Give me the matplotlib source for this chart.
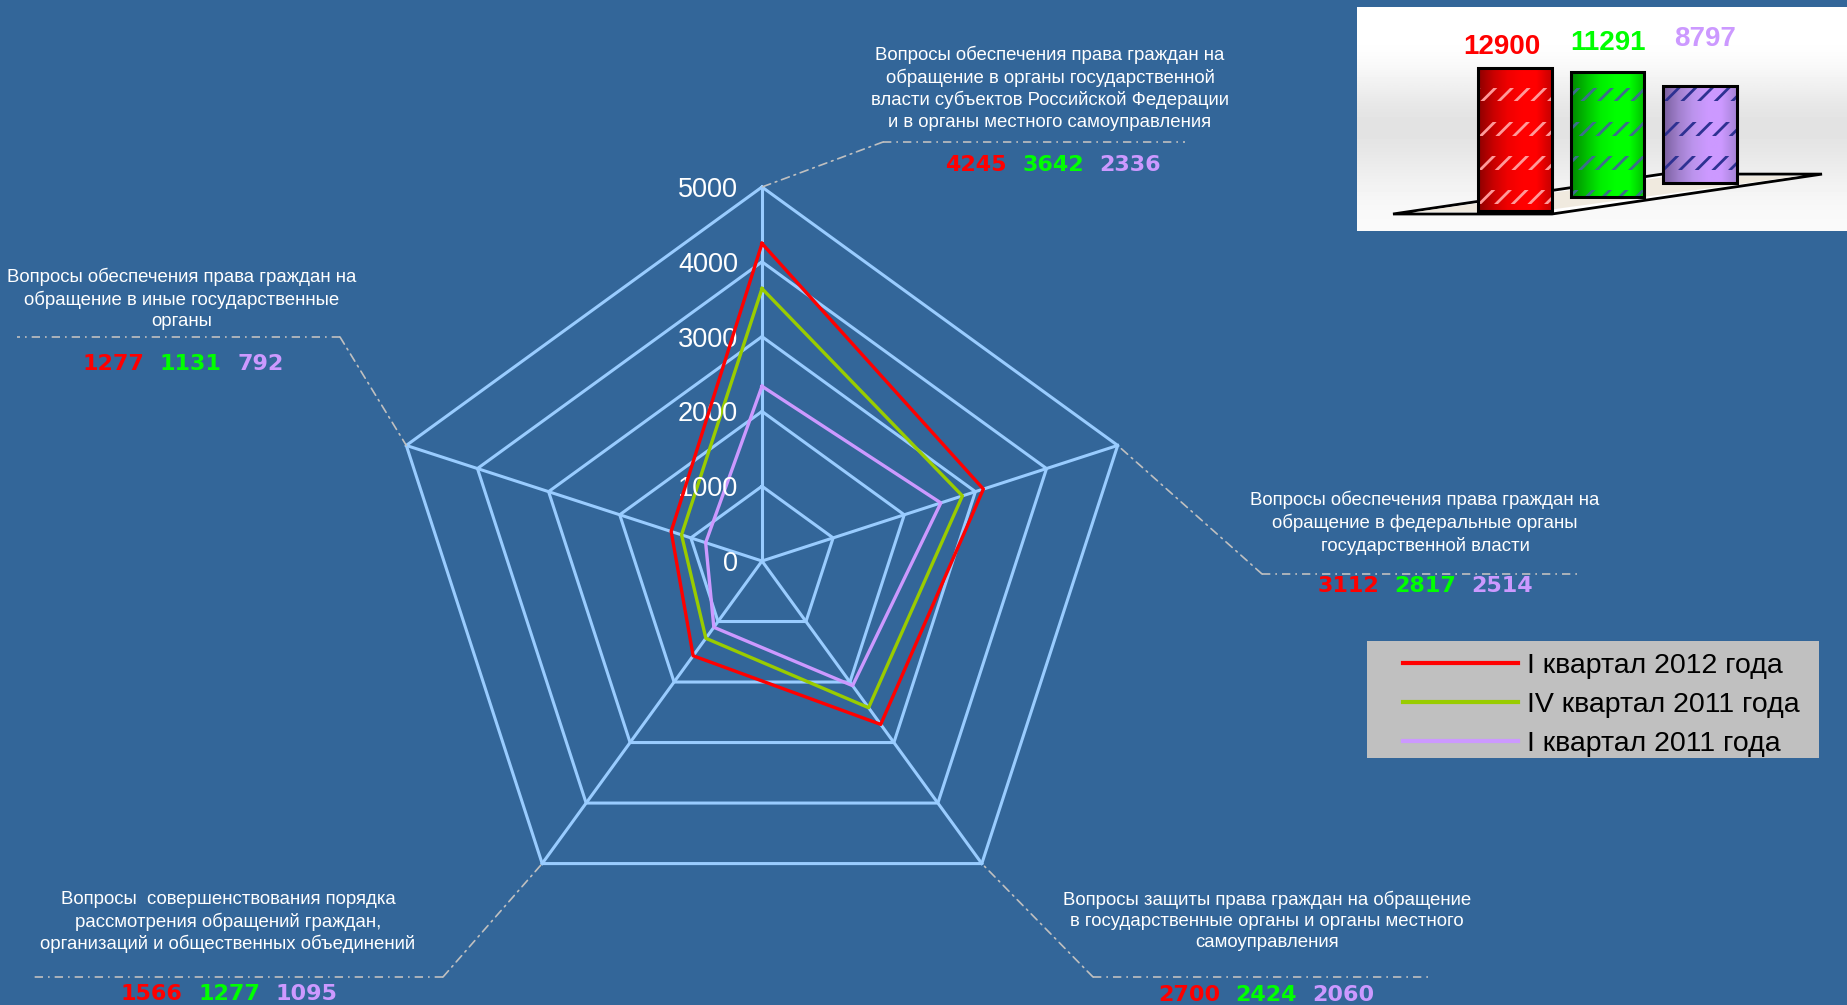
import numpy as np
import matplotlib
matplotlib.use("Agg")
import matplotlib.pyplot as plt
from matplotlib.colors import LinearSegmentedColormap
from matplotlib.lines import Line2D
from matplotlib.patches import Rectangle, Polygon
from matplotlib.offsetbox import TextArea, HPacker, AnnotationBbox

# ---- data ----
categories = [
    "Вопросы обеспечения права граждан на\nобращение в органы государственной\n"
    "власти субъектов Российской Федерации\nи в органы местного самоуправления",
    "Вопросы обеспечения права граждан на\nобращение в федеральные органы\nгосударственной власти",
    "Вопросы защиты права граждан на обращение\nв государственные органы и органы местного\nсамоуправления",
    "Вопросы  совершенствования порядка\nрассмотрения обращений граждан,\nорганизаций и общественных объединений",
    "Вопросы обеспечения права граждан на\nобращение в иные государственные\nорганы",
]
q1_2012 = [4245, 3112, 2700, 1566, 1277]
q4_2011 = [3642, 2817, 2424, 1277, 1131]
q1_2011 = [2336, 2514, 2060, 1095, 792]
series_labels = ["I квартал 2012 года", "IV квартал 2011 года", "I квартал 2011 года"]
totals = [12900, 11291, 8797]
r_ticks = [0, 1000, 2000, 3000, 4000, 5000]

W, H = 1847, 1005
BG = "#336699"
GRID = "#99CCFF"
LEADER = "#C0C0C0"
line_colors = ["#FF0000", "#99CC00", "#CC99FF"]
num_colors = ["#FF0000", "#00FF00", "#CC99FF"]

plt.rcParams["font.family"] = ["Liberation Sans", "DejaVu Sans"]
plt.rcParams["hatch.linewidth"] = 2.0


def fpx(x, y):
    # image pixel (top-left origin) -> figure fraction
    return x / W, 1 - y / H


fig = plt.figure(figsize=(W / 100, H / 100), dpi=100, facecolor=BG)

# ---- radar ----
cx, cy, R = 762, 561, 374
ax = fig.add_axes([(cx - R) / W, (H - cy - R) / H, 2 * R / W, 2 * R / H], projection="polar")
ax.set_theta_zero_location("N")
ax.set_theta_direction(-1)
ax.set_ylim(0, r_ticks[-1])
ax.set_xticks([])
ax.set_yticks([])
ax.spines["polar"].set_visible(False)
ax.patch.set_alpha(0)

n = len(categories)
theta = np.linspace(0, 2 * np.pi, n, endpoint=False)
theta_c = np.append(theta, theta[0])

for r in r_ticks[1:]:
    ax.plot(theta_c, [r] * (n + 1), color=GRID, lw=2.2, clip_on=False, zorder=1)
for t in theta:
    ax.plot([t, t], [0, r_ticks[-1]], color=GRID, lw=2.2, clip_on=False, zorder=1)

lines = []
for vals, col, lab in zip([q1_2012, q4_2011, q1_2011], line_colors, series_labels):
    ln, = ax.plot(theta_c, vals + vals[:1], color=col, lw=2.4, label=lab, clip_on=False)
    lines.append(ln)
lines[0].set_zorder(4)
lines[1].set_zorder(3)
lines[2].set_zorder(2)

for r in r_ticks:
    ax.annotate(str(r), xy=(0, r), xytext=(-24, -3), textcoords="offset pixels",
                ha="right", va="center", color="white", fontsize=19.5)

# ---- category labels, values and leader lines ----
label_pos = [(1050, 88), (1425, 523), (1267, 921), (228, 922), (182, 299)]
value_pos = [(1053, 165), (1425, 586), (1266, 995), (229, 994), (183, 364)]
elbows = [(883, 142), (1262, 574), (1093, 977), (443, 977), (340, 337)]
shelf_end = [1185, 1577, 1432, 30, 17]
dash = (0, (5, 3, 1, 3))

for i in range(n):
    fig.text(*fpx(*label_pos[i]), categories[i], ha="center", va="center",
             color="white", fontsize=13.4, linespacing=1.32)

    areas = [TextArea(str(v), textprops=dict(color=c, fontsize=16, fontweight="bold",
                                              family="DejaVu Sans"))
             for v, c in zip((q1_2012[i], q4_2011[i], q1_2011[i]), num_colors)]
    box = HPacker(children=areas, align="center", pad=0, sep=11)
    fig.add_artist(AnnotationBbox(box, fpx(*value_pos[i]), xycoords="figure fraction",
                                  frameon=False, box_alignment=(0.5, 0.5), pad=0))

    ex, ey = fpx(*elbows[i])
    ax.annotate("", xy=(theta[i], r_ticks[-1]), xycoords="data",
                xytext=(ex, ey), textcoords="figure fraction",
                arrowprops=dict(arrowstyle="-", color=LEADER, lw=1.2, linestyle=dash,
                                shrinkA=0, shrinkB=0))
    sx, _ = fpx(shelf_end[i], elbows[i][1])
    fig.add_artist(Line2D([ex, sx], [ey, ey], transform=fig.transFigure,
                          color=LEADER, lw=1.2, linestyle=dash))

# ---- legend ----
fig.add_artist(Rectangle(fpx(1367, 758), 452 / W, 117 / H, transform=fig.transFigure,
                         facecolor="#C0C0C0", edgecolor="none", zorder=0))
leg = ax.legend(handles=lines, loc="center left", bbox_to_anchor=fpx(1403, 705),
                bbox_transform=fig.transFigure, frameon=False, fontsize=20.5,
                handlelength=4.05, handletextpad=0.32, labelspacing=0.45,
                borderpad=0, borderaxespad=0)
for t in leg.get_texts():
    t.set_color("black")
for h in leg.get_lines():
    h.set_linewidth(3)

# ---- inset with total bars ----
ax_in = fig.add_axes([1357 / W, 1 - 231 / H, 490 / W, 224 / H])
grad = np.array([1.0, 1.0, 0.94, 0.88, 0.9, 0.95, 0.98])[:, None]
ax_in.imshow(grad, cmap="gray", vmin=0, vmax=1, extent=[0, 1, 0, 1],
             transform=ax_in.transAxes, aspect="auto", interpolation="bicubic", zorder=0)
ax_in.axis("off")

floor = Polygon([(0.0735, 0.0759), (0.398, 0.0759), (0.949, 0.254), (0.623, 0.254)],
                closed=True, transform=ax_in.transAxes, facecolor="white",
                edgecolor="black", lw=2, zorder=1)
ax_in.add_patch(floor)
shadow = Polygon([(0.12, 0.085), (0.36, 0.085), (0.90, 0.245), (0.64, 0.245)],
                 closed=True, transform=ax_in.transAxes, facecolor="#E6DCCB",
                 edgecolor="none", alpha=0.6, zorder=1.5)
ax_in.add_patch(shadow)

bar_x = np.arange(len(totals))
bottoms = bar_x * 1260
bar_cmaps = [
    ["#8E0000", "#C80000", "#F00000", "#FF0000", "#FF0000", "#C80000"],
    ["#008A00", "#00BF00", "#00EE00", "#00FF00", "#00FF00", "#00BF00"],
    ["#7A5F9E", "#A07FCC", "#BB93EC", "#CC99FF", "#CC99FF", "#A583D6"],
]
hatch_cols = ["#FF9A9A", "#3C6E8C", "#2E3192"]
bars = ax_in.bar(bar_x, totals, width=0.79, bottom=bottoms, color=num_colors,
                 edgecolor="none", zorder=2)
band_y = np.arange(4) * 3070 + 1260
for bar, cm, hc in zip(bars, bar_cmaps, hatch_cols):
    x0, y0, w, h = bar.get_x(), bar.get_y(), bar.get_width(), bar.get_height()
    im = ax_in.imshow(np.linspace(0, 1, 64)[None, :],
                      cmap=LinearSegmentedColormap.from_list("cyl", cm),
                      extent=[x0, x0 + w, y0, y0 + h], aspect="auto", zorder=3)
    im.set_clip_path(bar)
    for yb in band_y:
        hp = Rectangle((x0, yb - 590), w, 1180, fill=False, hatch="//",
                       edgecolor=hc, lw=0, zorder=4)
        ax_in.add_patch(hp)
        hp.set_clip_path(bar)
ax_in.bar(bar_x, totals, width=0.79, bottom=bottoms, fill=False,
          edgecolor="black", lw=2.2, zorder=5)
ax_in.set_xlim(-1.708, 3.589)
ax_in.set_ylim(-1804, 18403)

label_dx = [-0.14, 0.0, 0.05]
for i, (v, c) in enumerate(zip(totals, num_colors)):
    ax_in.text(bar_x[i] + label_dx[i], 14800 + i * 360, str(v), ha="center", va="center",
               color=c, fontsize=20, fontweight="bold")

fig.savefig("out.png", dpi=100, facecolor=fig.get_facecolor())
